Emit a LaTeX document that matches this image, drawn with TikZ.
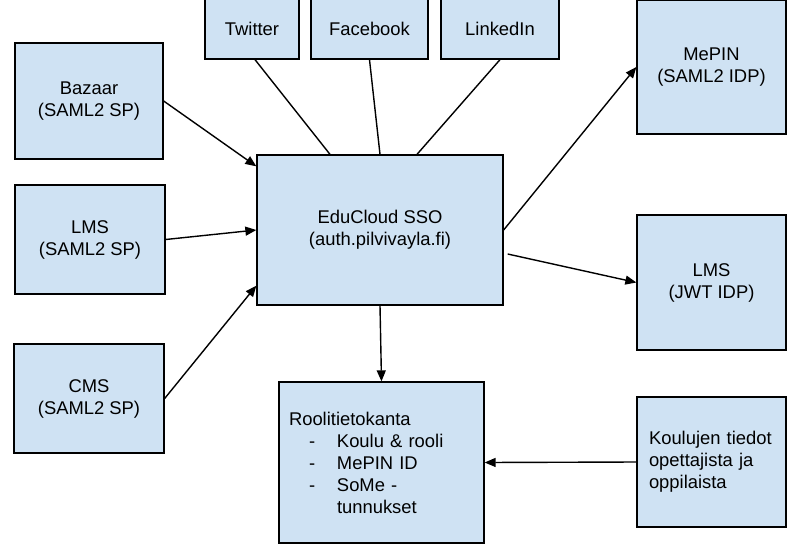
\documentclass[tikz,border=0pt]{standalone}
\usepackage{fontspec}
\setmainfont{Liberation Sans}
\usepackage{tikz}
\usetikzlibrary{arrows.meta}
\definecolor{boxblue}{HTML}{CFE2F3}
\tikzset{
    box/.style={draw=black, fill=boxblue, line width=1.3pt, align=center, inner sep=0pt,
        font=\fontsize{18.4}{22}\selectfont},
    listbox/.style={box, align=left, inner ysep=0pt},
}

\begin{document}
\begin{tikzpicture}[x=1pt, y=-1pt, line width=1.4pt, >={Stealth[inset=0pt, length=11pt, width=9pt]}]
    \useasboundingbox (0,0) rectangle (787,544);

    % Boxes
    \node [box, minimum width=148pt, minimum height=116pt] (bazaar) at (89,101) {Bazaar\\(SAML2 SP)};
    \node [box, minimum width=150pt, minimum height=109pt] (lmssp) at (90,239.5) {LMS\\(SAML2 SP)};
    \node [box, minimum width=150pt, minimum height=109pt] (cms) at (89,398.5) {CMS\\(SAML2 SP)};
    \node [box, minimum width=94pt, minimum height=61pt] (twitter) at (252,28.5) {Twitter};
    \node [box, minimum width=117pt, minimum height=61pt] (facebook) at (369.5,28.5) {Facebook};
    \node [box, minimum width=118pt, minimum height=61pt] (linkedin) at (500,28.5) {LinkedIn};
    \node [box, minimum width=246pt, minimum height=150pt] (edu) at (380,230) {EduCloud SSO\\(auth.pilvivayla.fi)};
    \node [box, minimum width=149pt, minimum height=134pt] (mepin) at (711.5,67) {MePIN\\(SAML2 IDP)};
    \node [box, minimum width=149pt, minimum height=135pt] (jwt) at (711.5,282.5) {LMS\\(JWT IDP)};
    \node [listbox, inner xsep=10pt, text width=185pt, minimum height=161pt] (rooli) at (381.5,462.5)
        {Roolitietokanta\\
         \hspace*{20pt}\makebox[28pt][l]{-}Koulu \& rooli\\
         \hspace*{20pt}\makebox[28pt][l]{-}MePIN ID\\
         \hspace*{20pt}\makebox[28pt][l]{-}SoMe -\\
         \hspace*{48pt}tunnukset};
    \node [listbox, inner xsep=12pt, text width=125pt, minimum height=130pt] (koulu) at (711.5,462)
        {Koulujen tiedot\\opettajista ja\\oppilaista};

    % Arrows and lines
    \draw [->] (bazaar.east) -- ([yshift=-12pt]edu.north west);
    \draw [->] (lmssp.east) -- (edu.west);
    \draw [->] (cms.east) -- ([yshift=20pt]edu.south west);
    \draw ([xshift=3pt]twitter.south) -- ([xshift=-50pt]edu.north);
    \draw (facebook.south) -- (edu.north);
    \draw (linkedin.south) -- ([xshift=37pt]edu.north);
    \draw [->] (edu.east) -- (mepin.west);
    \draw [->] ([xshift=4pt, yshift=-24pt]edu.east) -- (jwt.west);
    \draw [->] (edu.south) -- (rooli.north);
    \draw [->] (koulu.west) -- (rooli.east);
\end{tikzpicture}
\end{document}
